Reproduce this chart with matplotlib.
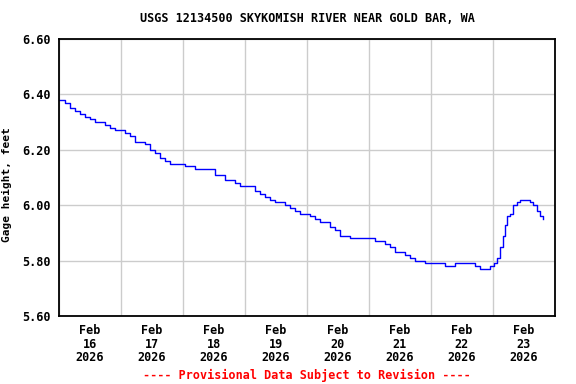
import numpy as np
import pandas as pd
import matplotlib
matplotlib.use("Agg")
import matplotlib.pyplot as plt
import matplotlib.dates as mdates

# Gage height readings (hours after Feb 16 2026 00:00, feet)
horas = [0.0, 2.3, 4.3, 6.2, 8.1, 10.1, 12.0, 13.9, 15.9, 17.8, 19.7, 21.7,
         23.6, 25.5, 27.5, 29.4, 31.4, 33.3, 35.2, 37.2, 39.1, 41.0, 43.0, 44.9,
         46.8, 48.8, 50.7, 52.6, 54.6, 56.5, 58.5, 60.4, 62.3, 64.3, 66.2, 68.1,
         70.1, 72.0, 73.9, 75.9, 77.8, 79.7, 81.7, 83.6, 85.5, 87.5, 89.4, 91.4,
         93.3, 95.2, 97.2, 99.1, 101.0, 103.0, 104.9, 106.8, 108.8, 110.7, 112.6,
         114.6, 116.5, 118.5, 120.4, 122.3, 124.3, 126.2, 128.1, 130.1, 132.0,
         133.9, 135.9, 137.8, 139.7, 141.7, 143.6, 145.5, 147.5, 149.4, 151.4,
         153.3, 155.2, 157.2, 159.1, 161.0, 163.0, 164.9, 166.8, 168.4, 169.5,
         170.7, 171.9, 172.6, 173.4, 174.6, 175.7, 177.3, 178.5, 179.6, 181.2,
         182.3, 183.5, 185.0, 186.2, 187.4]
altura = [6.38, 6.37, 6.35, 6.34, 6.33, 6.32, 6.31, 6.30, 6.30, 6.29, 6.28, 6.27,
          6.27, 6.26, 6.25, 6.23, 6.23, 6.22, 6.20, 6.19, 6.17, 6.16, 6.15, 6.15,
          6.15, 6.14, 6.14, 6.13, 6.13, 6.13, 6.13, 6.11, 6.11, 6.09, 6.09, 6.08,
          6.07, 6.07, 6.07, 6.05, 6.04, 6.03, 6.02, 6.01, 6.01, 6.00, 5.99, 5.98,
          5.97, 5.97, 5.96, 5.95, 5.94, 5.94, 5.92, 5.91, 5.89, 5.89, 5.88, 5.88,
          5.88, 5.88, 5.88, 5.87, 5.87, 5.86, 5.85, 5.83, 5.83, 5.82, 5.81, 5.80,
          5.80, 5.79, 5.79, 5.79, 5.79, 5.78, 5.78, 5.79, 5.79, 5.79, 5.79, 5.78,
          5.77, 5.77, 5.78, 5.79, 5.81, 5.85, 5.89, 5.93, 5.96, 5.97, 6.00, 6.01,
          6.02, 6.02, 6.02, 6.01, 6.00, 5.98, 5.96, 5.95]

inicio = pd.Timestamp("2026-02-16 00:00")
tiempos = inicio + pd.to_timedelta(horas, unit="h")

titulo = "USGS 12134500 SKYKOMISH RIVER NEAR GOLD BAR, WA"
nota = "---- Provisional Data Subject to Revision ----"
fuente = "DejaVu Sans Mono"

fig = plt.figure(figsize=(5.76, 3.84), dpi=100)
ax = fig.add_axes([0.1024, 0.177, 0.8611, 0.7214])

ax.plot(tiempos, altura, color="#0000ff", linewidth=1.0, drawstyle="steps-post")

ax.set_xlim(inicio, inicio + pd.Timedelta(days=8))
ax.set_ylim(5.60, 6.60)
ax.set_yticks(np.arange(5.60, 6.61, 0.20))
ax.yaxis.set_major_formatter(matplotlib.ticker.FormatStrFormatter("%.2f"))

ax.xaxis.set_major_locator(mdates.DayLocator())
ax.xaxis.set_major_formatter(matplotlib.ticker.NullFormatter())
ax.xaxis.set_minor_locator(mdates.HourLocator(byhour=12))
ax.xaxis.set_minor_formatter(mdates.DateFormatter("%b\n%d\n%Y"))

ax.grid(True, which="major", color="#cccccc", linewidth=1.0)
ax.set_axisbelow(True)
ax.tick_params(which="both", length=0)
ax.tick_params(axis="x", which="minor", pad=6)
ax.tick_params(axis="y", pad=6)
for lab in ax.get_xticklabels(minor=True) + ax.get_yticklabels():
    lab.set_fontfamily(fuente)
    lab.set_fontweight("bold")
    lab.set_fontsize(8.5)
    lab.set_linespacing(1.05)

for s in ax.spines.values():
    s.set_linewidth(1.3)
    s.set_color("black")

ax.set_ylabel("Gage height, feet", fontfamily=fuente, fontweight="bold",
              fontsize=8)
ax.yaxis.set_label_coords(-0.095, 0.475)

ax.text(0.5, 1.0 + 20 / 276, titulo, transform=ax.transAxes, ha="center",
        va="center", fontfamily=fuente, fontweight="bold", fontsize=8.5)
ax.text(0.5, -59 / 276, nota, transform=ax.transAxes, ha="center",
        va="center", fontfamily=fuente, fontweight="bold", fontsize=8.5,
        color="red")

fig.savefig("out.png", dpi=100)
